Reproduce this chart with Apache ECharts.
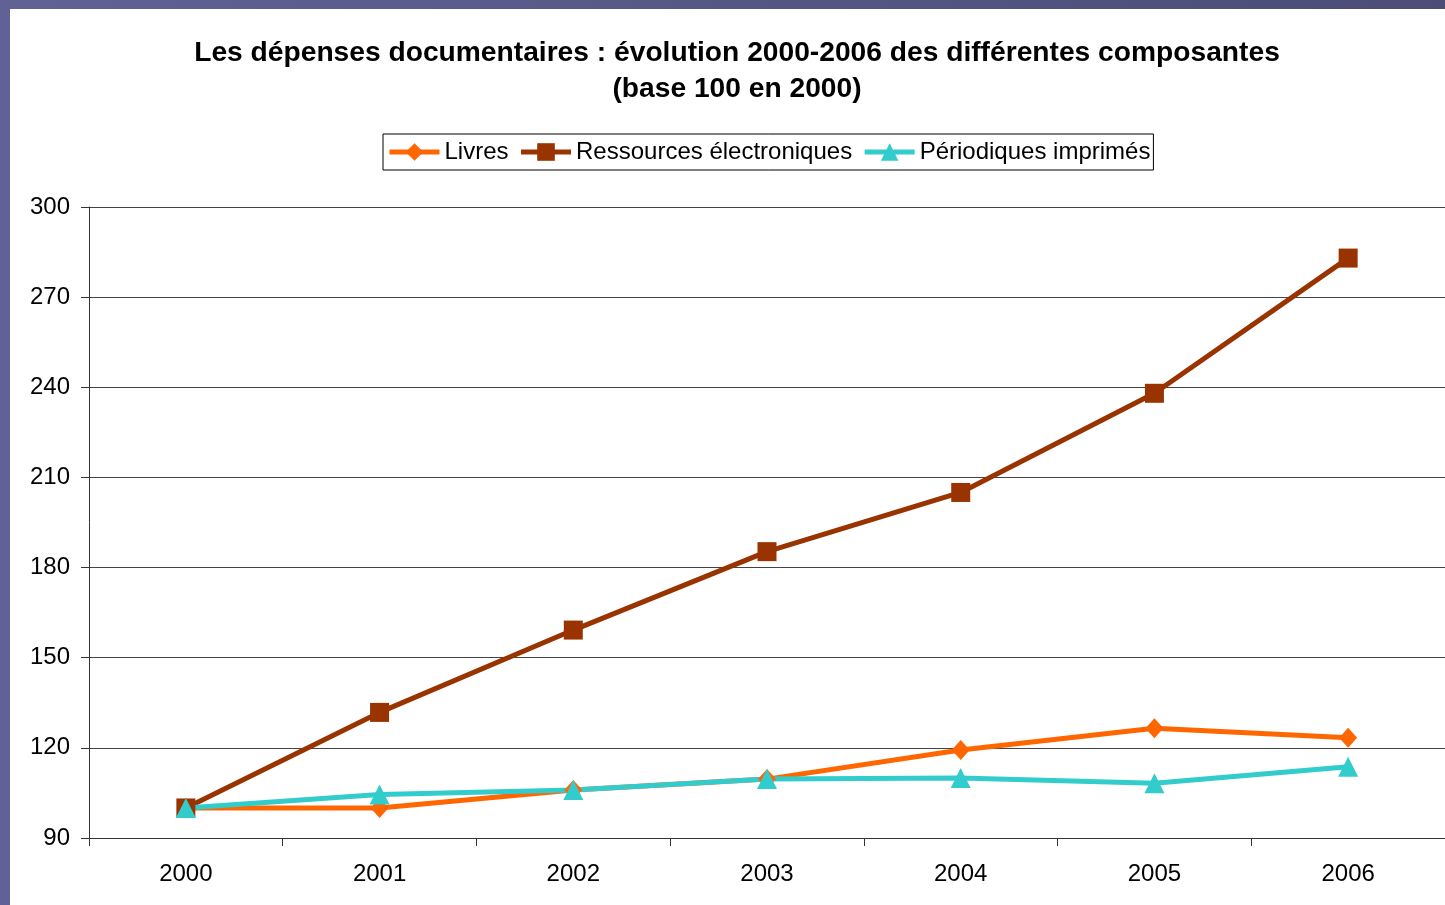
<!DOCTYPE html>
<html>
<head>
<meta charset="utf-8">
<script src="https://cdn.jsdelivr.net/npm/echarts@6/dist/echarts.min.js"></script>
<style>
  html, body { margin: 0; padding: 0; }
  body {
    width: 1445px; height: 905px; overflow: hidden;
    background: linear-gradient(to right, #616196, #4c4c77);
  }
  #chart {
    position: absolute; left: 10px; top: 9px;
    width: 1435px; height: 896px; background: #fff;
  }
</style>
</head>
<body>
<div id="chart"></div>
<script>
const years = ['2000', '2001', '2002', '2003', '2004', '2005', '2006'];
const livres = [100, 100, 106, 109.6, 119.3, 126.5, 123.4];
const ressources = [100, 131.8, 159.2, 185.3, 205, 238, 283];
const periodiques = [100, 104.5, 106, 109.6, 110, 108.2, 113.7];

const font = 'Arial, "Liberation Sans", sans-serif';

const chart = echarts.init(document.getElementById('chart'));

function line(name, data, color, symbol, size) {
  return {
    name: name,
    type: 'line',
    data: data,
    symbol: symbol,
    symbolSize: size,
    animation: false,
    lineStyle: { color: color, width: 5 },
    itemStyle: { color: color }
  };
}

chart.setOption({
  textStyle: { fontFamily: font },
  title: {
    text: 'Les dépenses documentaires : évolution 2000-2006 des différentes composantes\n(base 100 en 2000)',
    left: 727,
    textAlign: 'center',
    top: 26,
    padding: 0,
    textStyle: {
      fontFamily: font,
      fontSize: 28.2,
      fontWeight: 'bold',
      lineHeight: 36,
      color: '#000'
    }
  },
  legend: {
    left: 373,
    top: 125,
    padding: [6, 3, 6, 4],
    itemGap: 10,
    itemWidth: 50,
    itemHeight: 22,
    borderColor: '#000',
    borderWidth: 1,
    lineStyle: { width: 5 },
    textStyle: { fontFamily: font, fontSize: 24, color: '#000' },
    data: ['Livres', 'Ressources électroniques', 'Périodiques imprimés']
  },
  grid: {
    left: 79,
    right: -2,
    top: 198,
    bottom: 67,
    containLabel: false
  },
  xAxis: {
    type: 'category',
    data: years,
    boundaryGap: true,
    axisLine: { lineStyle: { color: '#333', width: 1 } },
    axisTick: { show: true, length: 8, lineStyle: { color: '#333' } },
    axisLabel: { fontSize: 24, color: '#000', margin: 24, fontFamily: font }
  },
  yAxis: {
    type: 'value',
    min: 90,
    max: 300,
    interval: 30,
    axisLine: { show: true, lineStyle: { color: '#333', width: 1 } },
    axisTick: { show: true, length: 8, lineStyle: { color: '#333' } },
    axisLabel: { fontSize: 24, color: '#000', margin: 19, fontFamily: font },
    splitLine: { show: true, lineStyle: { color: '#444', width: 1 } }
  },
  series: [
    line('Livres', livres, '#FF6600', 'diamond', [18, 20]),
    line('Ressources électroniques', ressources, '#993300', 'rect', 19),
    line('Périodiques imprimés', periodiques, '#33CCCC', 'triangle', 20)
  ]
});
</script>
</body>
</html>
